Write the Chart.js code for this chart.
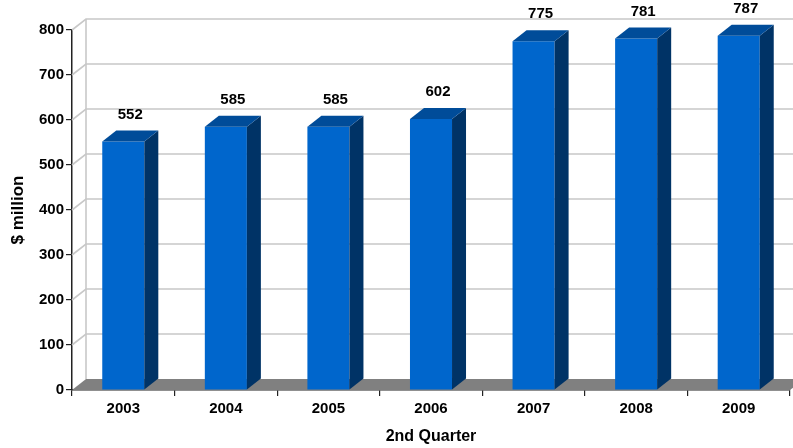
<!DOCTYPE html>
<html>
<head>
<meta charset="utf-8">
<script src="https://cdn.jsdelivr.net/npm/chart.js@4/dist/chart.umd.min.js"></script>
<style>
  html, body { margin: 0; padding: 0; background: #fff; }
  #wrap { width: 793px; height: 448px; }
</style>
</head>
<body>
<div id="wrap"><canvas id="bars"></canvas></div>
<script>
const years = ['2003', '2004', '2005', '2006', '2007', '2008', '2009'];
const revenue = [552, 585, 585, 602, 775, 781, 787];
const yTicks = [0, 100, 200, 300, 400, 500, 600, 700, 800];

const DX = 14, DY = -11;   // depth of the 3d look
const font = 'Liberation Sans, Arial, sans-serif';

const box3d = {
    id: 'box3d',
    beforeDatasetsDraw(chart) {
        const ctx = chart.ctx;
        const a = chart.chartArea;
        const y = chart.scales.y;
        ctx.save();
        // floor
        ctx.fillStyle = '#808080';
        ctx.beginPath();
        ctx.moveTo(a.left, a.bottom);
        ctx.lineTo(a.right, a.bottom);
        ctx.lineTo(a.right + DX, a.bottom + DY);
        ctx.lineTo(a.left + DX, a.bottom + DY);
        ctx.closePath();
        ctx.fill();
        // back wall grid
        ctx.strokeStyle = '#c8c8c8';
        ctx.lineWidth = 1.6;
        yTicks.forEach(v => {
            if (v == 0) return;
            let py = y.getPixelForValue(v);
            ctx.beginPath();
            ctx.moveTo(a.left, py);
            ctx.lineTo(a.left + DX, py + DY);
            ctx.lineTo(a.right + DX, py + DY);
            ctx.stroke();
        });
        ctx.beginPath();
        ctx.moveTo(a.left + DX, a.top + DY);
        ctx.lineTo(a.left + DX, a.bottom + DY);
        ctx.stroke();
        ctx.restore();
    },
    afterDatasetsDraw(chart) {
        const ctx = chart.ctx;
        const meta = chart.getDatasetMeta(0);
        ctx.save();
        meta.data.forEach((bar, i) => {
            const l = bar.x - bar.width / 2, r = bar.x + bar.width / 2;
            const t = bar.y, b = bar.base;
            // side
            ctx.fillStyle = '#003366';
            ctx.beginPath();
            ctx.moveTo(r, t);
            ctx.lineTo(r + DX, t + DY);
            ctx.lineTo(r + DX, b + DY);
            ctx.lineTo(r, b);
            ctx.closePath();
            ctx.fill();
            // top
            ctx.fillStyle = '#004c99';
            ctx.beginPath();
            ctx.moveTo(l, t);
            ctx.lineTo(l + DX, t + DY);
            ctx.lineTo(r + DX, t + DY);
            ctx.lineTo(r, t);
            ctx.closePath();
            ctx.fill();
            // value label
            ctx.fillStyle = '#000';
            ctx.font = 'bold 15px ' + font;
            ctx.textAlign = 'center';
            ctx.textBaseline = 'middle';
            ctx.fillText(String(revenue[i]), bar.x + DX / 2, t - 27);
        });
        ctx.restore();
    }
};

new Chart(document.getElementById('bars'), {
    type: 'bar',
    data: {
        labels: years,
        datasets: [{
            data: revenue,
            backgroundColor: '#0066cc',
            borderWidth: 0,
            categoryPercentage: 1,
            barPercentage: 0.41
        }]
    },
    options: {
        responsive: true,
        maintainAspectRatio: false,
        animation: false,
        layout: { padding: { top: 30, right: 3, left: 0, bottom: 0 } },
        plugins: { legend: { display: false }, tooltip: { enabled: false } },
        scales: {
            x: {
                afterFit: s => { s.height = 58; },
                grid: { drawOnChartArea: false, offset: true, color: '#222', tickLength: 6, lineWidth: 1.2 },
                border: { color: '#222', width: 1.5 },
                ticks: { color: '#000', padding: 4, font: { family: font, size: 15, weight: 'bold' } },
                title: { display: true, text: '2nd Quarter', color: '#000', padding: { top: 0, bottom: 2 },
                    font: { family: font, size: 16, weight: 'bold' } }
            },
            y: {
                min: 0,
                max: 800,
                afterFit: s => { s.width = 72; },
                afterBuildTicks: s => { s.ticks = yTicks.map(v => ({ value: v })); },
                grid: { drawOnChartArea: false, color: '#222', tickLength: 6, lineWidth: 1.2 },
                border: { color: '#222', width: 1.5 },
                ticks: { color: '#000', padding: 2, font: { family: font, size: 15, weight: 'bold' } },
                title: { display: true, text: '$ million', color: '#000', padding: { top: 8, bottom: 0 },
                    font: { family: font, size: 17, weight: 'bold' } }
            }
        }
    },
    plugins: [box3d]
});
</script>
</body>
</html>
